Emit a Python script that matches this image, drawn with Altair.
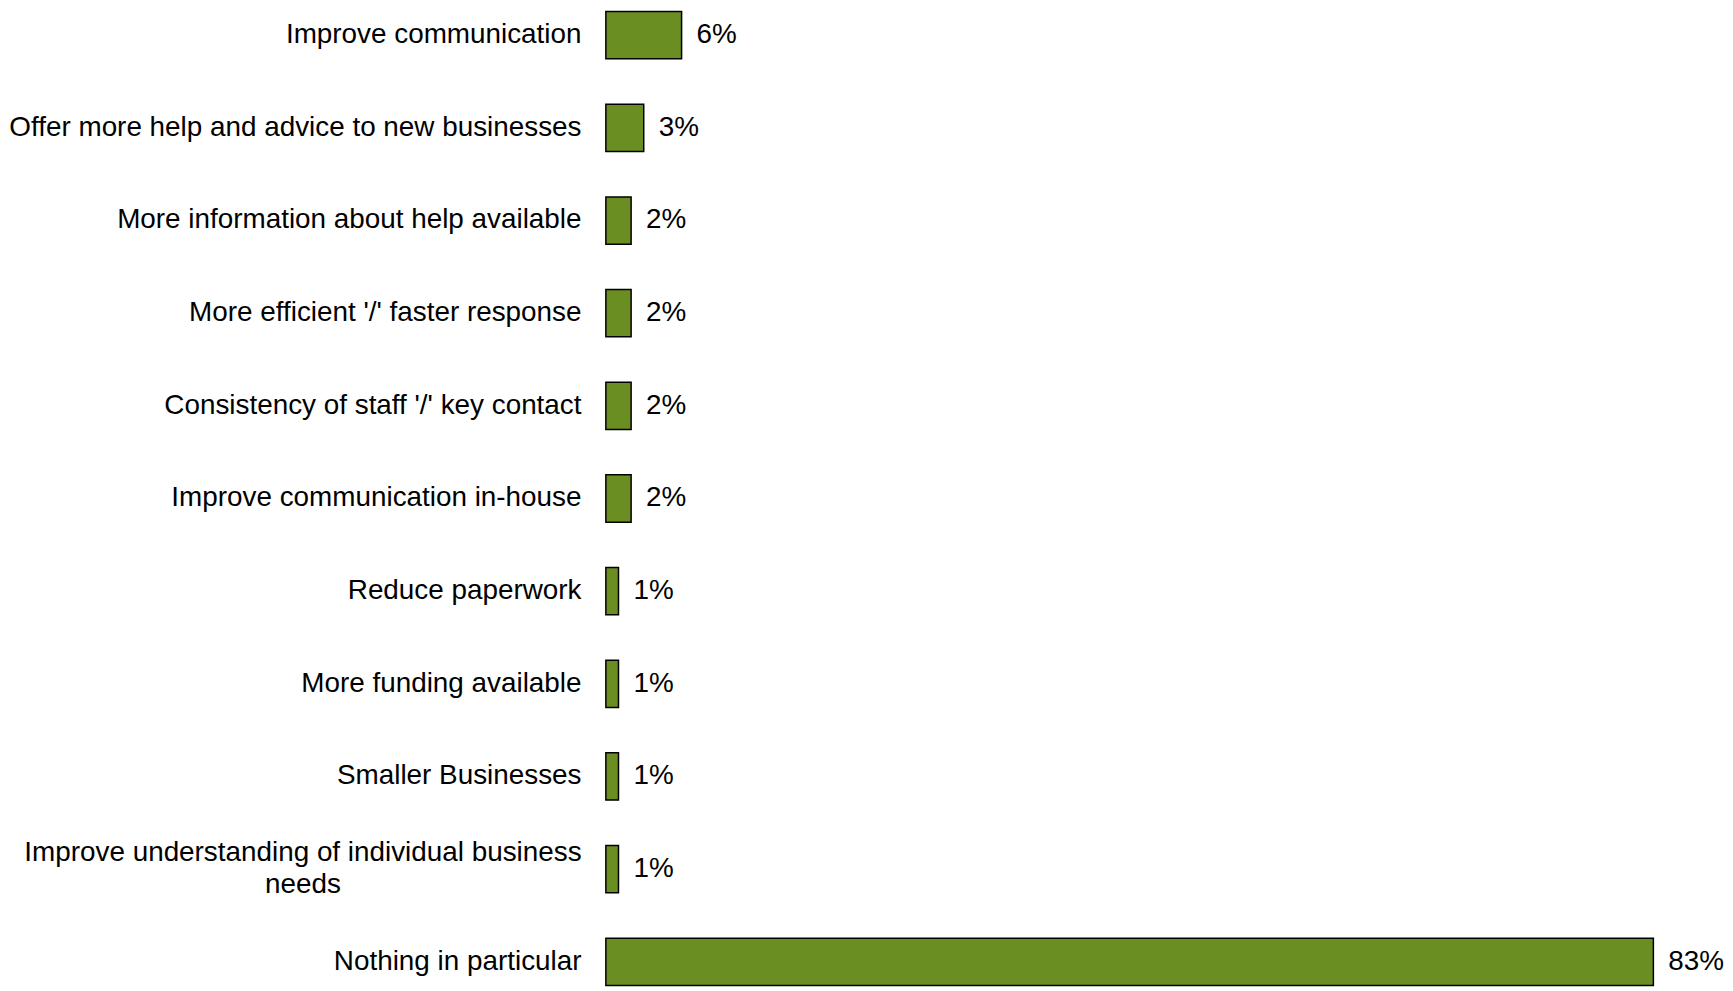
import altair as alt
import pandas as pd

categories = [
    "Improve communication",
    "Offer more help and advice to new businesses",
    "More information about help available",
    "More efficient '/' faster response",
    "Consistency of staff '/' key contact",
    "Improve communication in-house",
    "Reduce paperwork",
    "More funding available",
    "Smaller Businesses",
    "Improve understanding of individual business|needs",
    "Nothing in particular",
]
values = [6, 3, 2, 2, 2, 2, 1, 1, 1, 1, 83]
label_texts = ["6%", "3%", "2%", "2%", "2%", "2%", "1%", "1%", "1%", "1%", "83%"]

df = pd.DataFrame({"cat": categories, "val": values, "lab": label_texts})

FONT = "Liberation Sans"
MULTI = "indexof(datum.value, '|') >= 0"

y_enc = alt.Y(
    "cat:N",
    sort=None,
    title=None,
    scale=alt.Scale(paddingInner=0.49, paddingOuter=0),
    axis=alt.Axis(
        domain=False,
        ticks=False,
        grid=False,
        labelFont=FONT,
        labelFontSize=28,
        labelColor="black",
        labelPadding={"condition": {"test": MULTI, "value": 305}, "value": 25},
        labelAlign={"condition": {"test": MULTI, "value": "center"}, "value": "right"},
        labelOffset={"condition": {"test": MULTI, "value": -16}, "value": 0},
        labelLimit=800,
        labelLineHeight=32,
        labelExpr="split(datum.label, '|')",
    ),
)
x_enc = alt.X(
    "val:Q",
    title=None,
    axis=None,
    scale=alt.Scale(domain=[0, 83], nice=False, zero=True),
)

bars = alt.Chart(df).mark_bar(
    color="#6B8E23", stroke="black", strokeWidth=1.5
).encode(x=x_enc, y=y_enc)

texts = alt.Chart(df).mark_text(
    align="left", baseline="middle", dx=15, font=FONT, fontSize=28, color="black"
).encode(x=x_enc, y=y_enc, text="lab:N")

chart = (
    alt.layer(bars, texts)
    .properties(
        width=1053,
        height=979,
        padding={"left": 0, "top": 0, "right": 0, "bottom": 0},
        view=alt.ViewBackground(strokeWidth=0, strokeOpacity=0, fill="white"),
    )
    .configure_view(stroke="transparent", strokeWidth=0)
    .configure_axis(grid=False, domain=False)
    .configure(background="white")
)

chart.save("out.html", embed_options={"renderer": "svg", "actions": False})
